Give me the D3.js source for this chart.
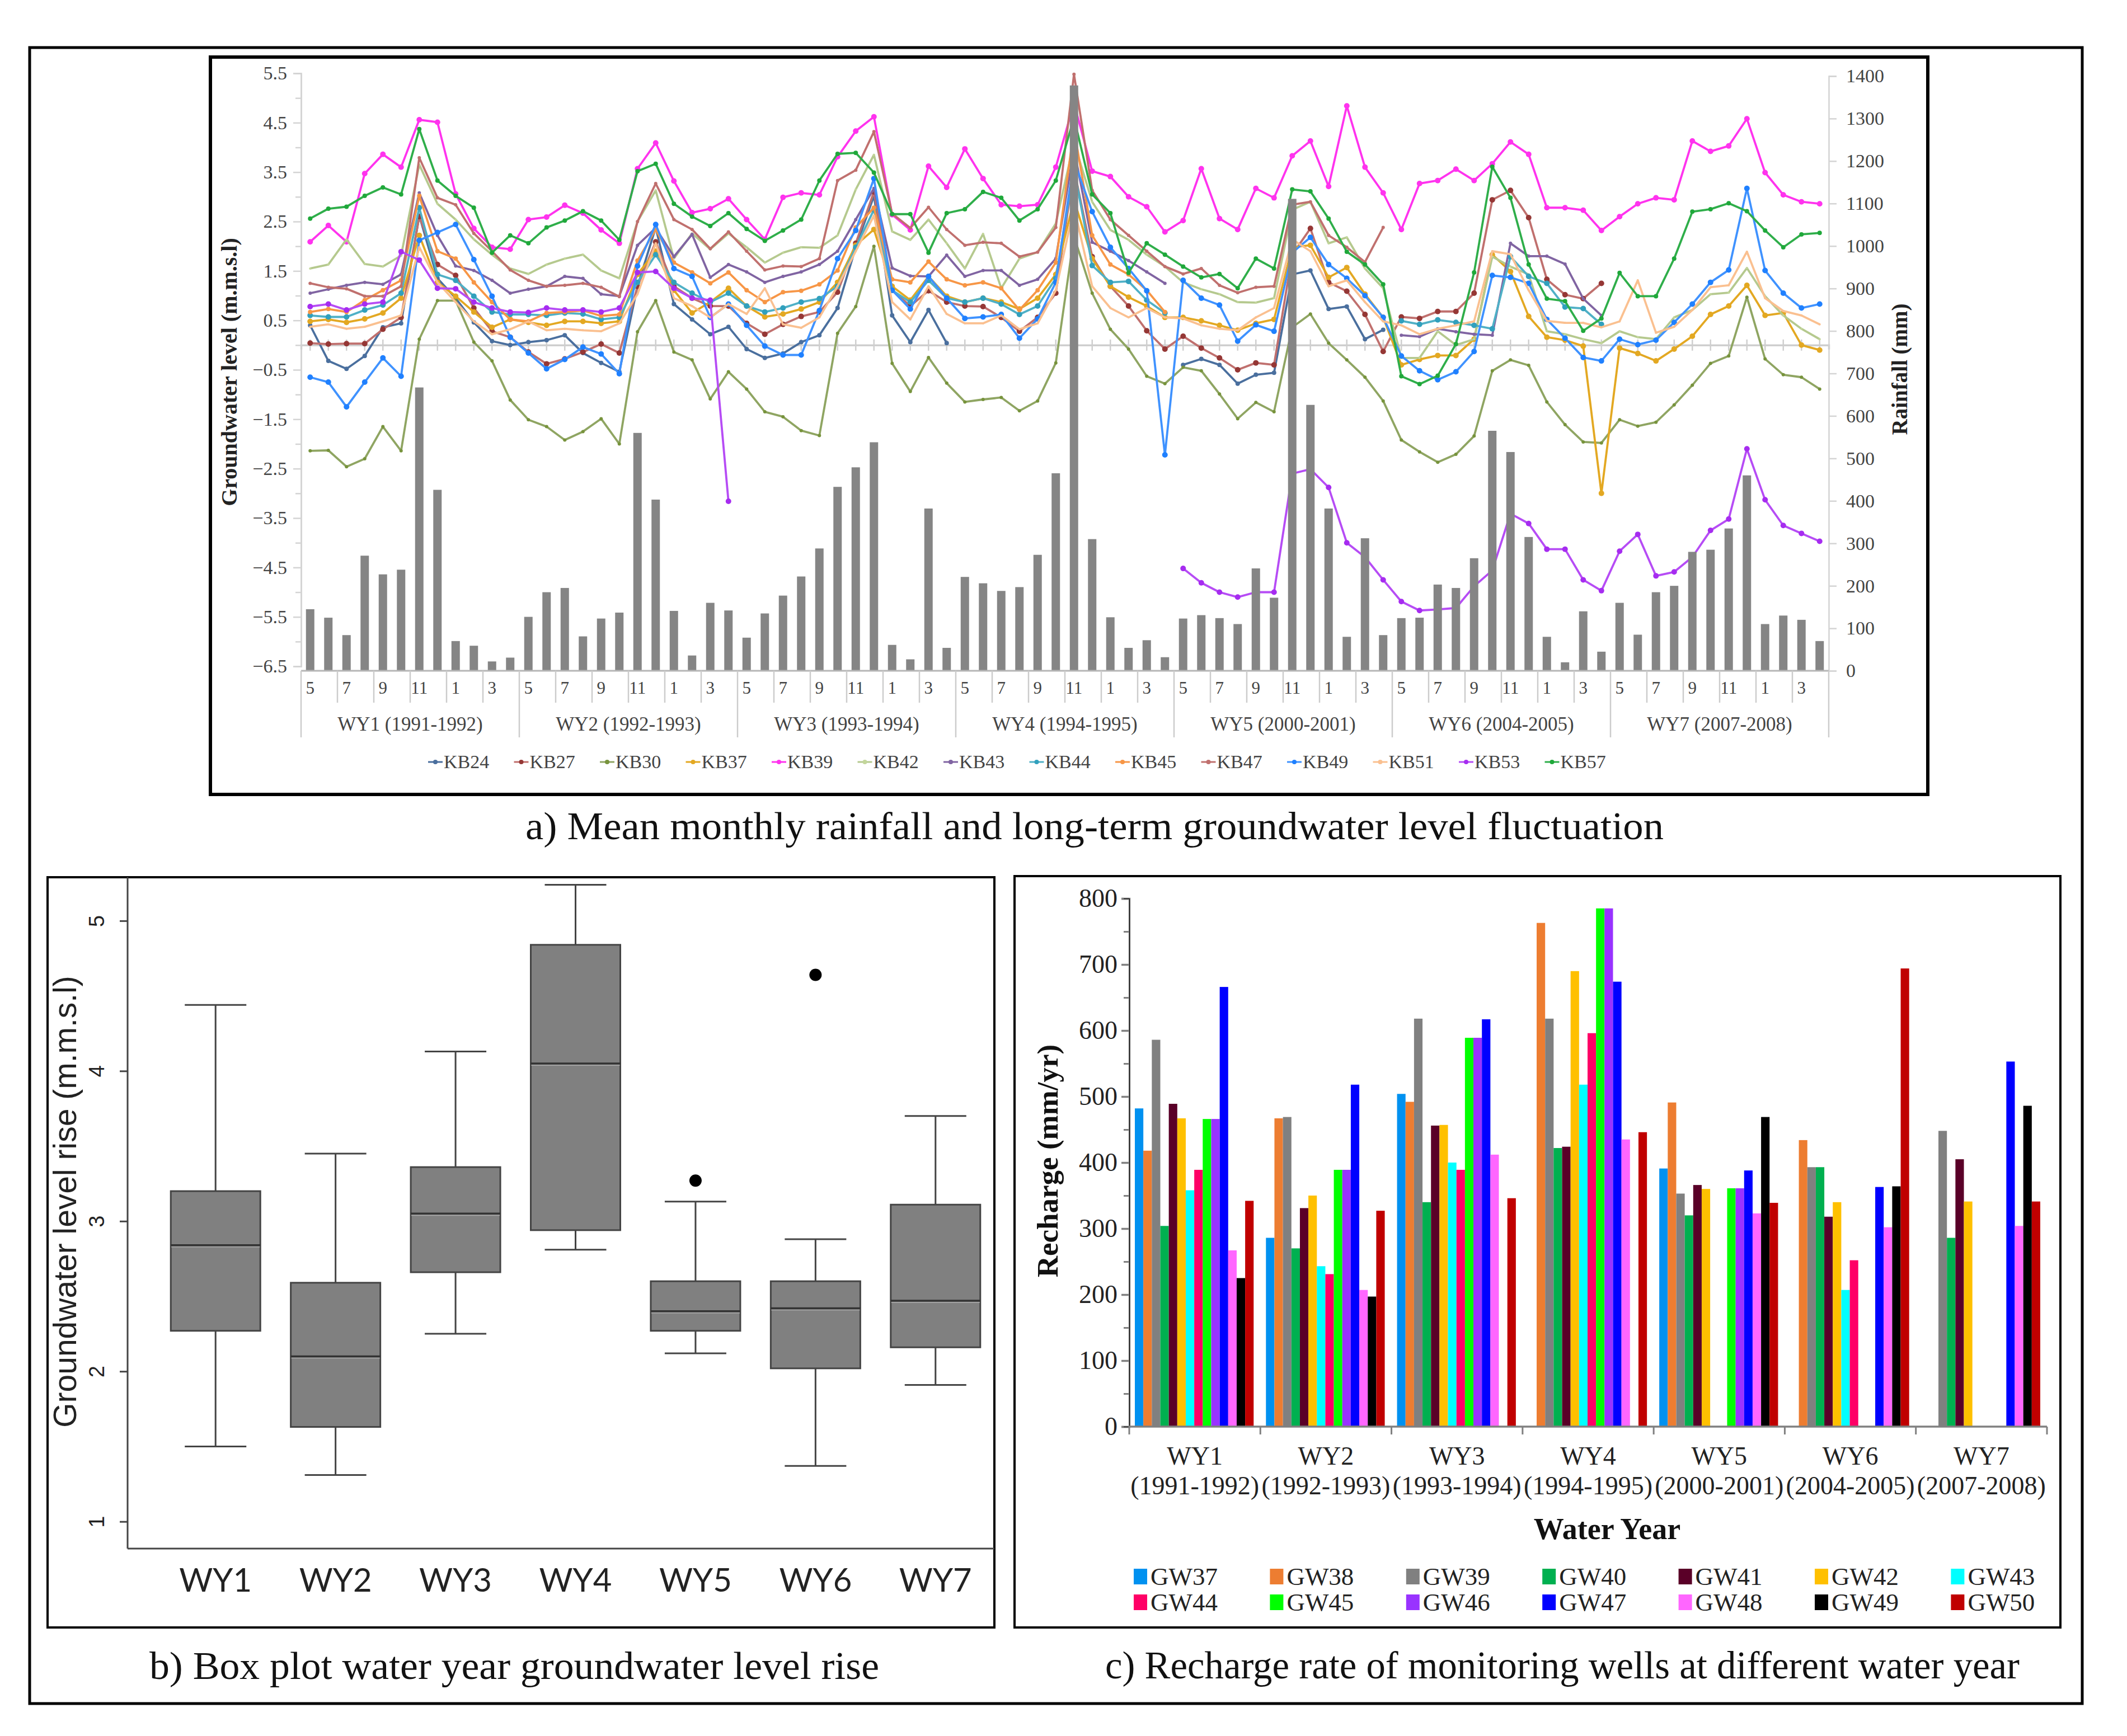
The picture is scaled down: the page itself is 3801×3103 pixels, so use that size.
<!DOCTYPE html>
<html>
<head>
<meta charset="utf-8">
<script src="https://cdn.jsdelivr.net/npm/d3@7"></script>
<style>
    html, body { margin: 0; background: #fff; }
    svg { display: block; }
</style>
</head>
<body>
<div class="main"></div>
<script>
// ---------- panel a data ----------
const wyLong = ["WY1 (1991-1992)", "WY2 (1992-1993)", "WY3 (1993-1994)", "WY4 (1994-1995)",
    "WY5 (2000-2001)", "WY6 (2004-2005)", "WY7 (2007-2008)"];
const monthLabels = ["5", "7", "9", "11", "1", "3"];

const rainfall = [
    145, 125, 84, 271, 227, 238, 667, 426, 70, 59, 22, 31,
    127, 185, 195, 81, 123, 137, 560, 403, 141, 36, 160, 142,
    78, 135, 177, 222, 288, 433, 479, 538, 61, 27, 382, 54,
    221, 206, 188, 197, 273, 465, 1378, 310, 126, 54, 72, 32,
    123, 131, 124, 110, 241, 172, 1111, 626, 382, 80, 312, 84,
    124, 125, 203, 195, 265, 565, 515, 315, 80, 20, 140, 45,
    160, 85, 185, 200, 280, 285, 335, 460, 110, 130, 120, 70];

const _ = null;
const kb24 = [
    0.40, -0.32, -0.48, -0.22, 0.36, 0.44, 2.62, 1.35, 0.95, 0.46, 0.08, 0.00,
    0.06, 0.10, 0.20, -0.16, -0.36, -0.54, 1.19, 2.38, 0.83, 0.52, 0.22, 0.37,
    -0.08, -0.26, -0.17, 0.06, 0.20, 0.75, 1.98, 3.02, 0.60, 0.06, 0.71, 0.04,
    _, _, _, _, _, _, _, _, _, _, _, _,
    -0.40, -0.28, -0.40, -0.78, -0.60, -0.56, 1.43, 1.51, 0.73, 0.78, 0.12, 0.31,
    _, _, _, _, _, _, _, _, _, _, _, _,
    _, _, _, _, _, _, _, _, _, _, _, _];
const kb27 = [
    0.04, 0.02, 0.03, 0.03, 0.32, 0.56, 2.60, 1.63, 1.41, 0.75, 0.28, 0.16,
    -0.14, -0.38, -0.28, -0.14, 0.02, -0.16, 1.19, 2.09, 1.19, 0.95, 0.79, 0.79,
    0.44, 0.22, 0.42, 0.58, 0.67, 1.07, 2.06, 3.10, 1.11, 0.79, 1.10, 0.87,
    0.79, 0.78, 0.56, 0.28, 0.56, 1.05, 3.57, 1.79, 1.19, 0.79, 0.29, -0.08,
    0.18, -0.06, -0.26, -0.50, -0.36, -0.40, 1.83, 2.36, 1.27, 1.09, 0.62, -0.13,
    0.57, 0.54, 0.68, 0.68, 1.05, 2.94, 3.13, 2.58, 1.33, 1.02, 0.94, 1.25,
    _, _, _, _, _, _, _, _, _, _, _, _];
const kb30 = [
    -2.14, -2.13, -2.46, -2.30, -1.65, -2.14, 0.12, 0.90, 0.90, 0.06, -0.32, -1.11,
    -1.51, -1.65, -1.92, -1.75, -1.49, -2.00, 0.27, 0.90, -0.14, -0.30, -1.09, -0.54,
    -0.89, -1.35, -1.45, -1.73, -1.83, 0.24, 0.78, 2.00, -0.37, -0.94, -0.25, -0.77,
    -1.15, -1.10, -1.06, -1.33, -1.13, -0.36, 2.20, 1.05, 0.32, -0.08, -0.63, -0.78,
    -0.45, -0.52, -0.99, -1.49, -1.16, -1.35, 0.36, 0.63, 0.04, -0.30, -0.65, -1.13,
    -1.92, -2.16, -2.37, -2.21, -1.84, -0.52, -0.30, -0.41, -1.15, -1.61, -1.96, -1.98,
    -1.51, -1.64, -1.56, -1.21, -0.81, -0.37, -0.22, 0.97, -0.28, -0.60, -0.65, -0.89];
const kb37 = [
    0.48, 0.52, 0.46, 0.53, 0.65, 0.95, 2.22, 1.27, 0.99, 0.67, 0.36, 0.52,
    0.46, 0.40, 0.48, 0.48, 0.44, 0.48, 1.43, 1.90, 1.11, 0.65, 0.87, 1.15,
    0.79, 0.57, 0.63, 0.73, 0.87, 1.27, 2.02, 2.34, 1.19, 0.91, 1.39, 0.99,
    0.87, 0.95, 0.87, 0.73, 0.95, 1.43, 2.94, 1.75, 1.19, 0.97, 0.79, 0.56,
    0.56, 0.49, 0.40, 0.30, 0.44, 0.52, 1.98, 2.02, 1.37, 1.57, 1.03, 0.56,
    -0.40, -0.29, -0.21, -0.21, 0.12, 1.83, 1.49, 0.58, 0.16, 0.10, -0.02, -3.00,
    -0.06, -0.17, -0.32, -0.08, 0.18, 0.62, 0.79, 1.21, 0.60, 0.65, 0.00, -0.10];
const kb39 = [
    2.09, 2.42, 2.09, 3.47, 3.86, 3.60, 4.56, 4.51, 3.06, 2.36, 1.98, 1.94,
    2.54, 2.59, 2.83, 2.67, 2.33, 2.06, 3.57, 4.09, 3.32, 2.68, 2.76, 2.96,
    2.54, 2.14, 2.99, 3.08, 3.04, 3.81, 4.33, 4.62, 2.64, 2.33, 3.62, 3.19,
    3.97, 3.37, 2.84, 2.81, 2.84, 3.60, 4.90, 3.52, 3.41, 3.00, 2.80, 2.29,
    2.52, 3.57, 2.56, 2.34, 3.17, 2.98, 3.83, 4.13, 3.21, 4.84, 3.60, 3.08,
    2.34, 3.27, 3.33, 3.56, 3.33, 3.67, 4.11, 3.86, 2.78, 2.78, 2.73, 2.32,
    2.60, 2.86, 2.98, 2.94, 4.13, 3.92, 4.03, 4.58, 3.49, 3.04, 2.90, 2.86];
const kb42 = [
    1.55, 1.63, 2.14, 1.64, 1.59, 1.81, 3.65, 2.86, 2.54, 2.14, 1.83, 1.55,
    1.44, 1.63, 1.75, 1.83, 1.51, 1.35, 2.50, 3.13, 1.75, 2.26, 1.94, 2.26,
    1.98, 1.67, 1.87, 1.98, 1.97, 2.22, 3.15, 3.85, 2.30, 2.13, 2.54, 2.06,
    1.55, 2.25, 1.15, 1.75, 1.88, 2.46, 4.10, 2.90, 2.33, 2.13, 1.83, 1.59,
    1.27, 1.13, 1.03, 0.87, 0.86, 0.95, 2.74, 2.90, 2.06, 2.18, 1.55, 1.15,
    -0.26, -0.26, 0.28, 0.00, 0.12, 1.79, 1.59, 1.43, 0.28, 0.22, 0.12, 0.04,
    0.28, 0.16, 0.12, 0.56, 0.71, 1.03, 1.06, 1.56, 0.99, 0.60, 0.33, 0.12];
const kb43 = [
    1.05, 1.13, 1.21, 1.27, 1.23, 1.43, 3.08, 2.22, 1.60, 1.51, 1.31, 1.05,
    1.13, 1.19, 1.39, 1.35, 1.03, 0.99, 2.02, 2.37, 1.79, 2.24, 1.37, 1.63,
    1.48, 1.27, 1.39, 1.48, 1.63, 1.90, 2.54, 3.17, 1.56, 1.40, 1.39, 1.82,
    1.39, 1.51, 1.51, 1.21, 1.33, 1.75, 3.97, 2.08, 1.90, 1.71, 1.48, 1.25,
    _, _, _, _, _, _, _, _, _, _, _, _,
    0.20, 0.17, 0.33, 0.27, 0.22, 0.20, 2.06, 1.80, 1.80, 1.64, 0.94, 0.60,
    _, _, _, _, _, _, _, _, _, _, _, _];
const kb44 = [
    0.60, 0.57, 0.57, 0.71, 0.81, 1.05, 2.78, 1.43, 1.31, 0.99, 0.67, 0.62,
    0.62, 0.60, 0.65, 0.63, 0.52, 0.56, 1.27, 1.83, 1.27, 1.05, 0.87, 1.05,
    0.79, 0.67, 0.75, 0.87, 0.94, 1.19, 1.98, 2.74, 1.11, 0.87, 1.31, 0.95,
    0.87, 0.95, 0.83, 0.62, 0.79, 1.35, 3.57, 1.61, 1.27, 1.29, 0.91, 0.65,
    _, _, _, _, _, _, _, _, _, _, _, _,
    0.49, 0.42, 0.51, 0.46, 0.40, 0.33, 1.79, 1.39, 1.25, 0.77, 0.74, 0.42,
    _, _, _, _, _, _, _, _, _, _, _, _];
const kb45 = [
    0.67, 0.73, 0.67, 0.91, 1.11, 1.31, 3.02, 1.90, 1.75, 1.27, 0.87, 0.52,
    0.48, 0.65, 0.67, 0.70, 0.59, 0.62, 1.71, 2.34, 1.67, 1.47, 1.25, 1.47,
    1.11, 0.87, 1.07, 1.10, 1.23, 1.51, 2.38, 2.78, 1.33, 1.27, 1.69, 1.33,
    1.21, 1.27, 1.15, 0.71, 1.11, 1.67, 4.37, 2.22, 1.63, 1.43, 1.11, 0.67,
    _, _, _, _, _, _, _, _, _, _, _, _,
    _, _, _, _, _, _, _, _, _, _, _, _,
    _, _, _, _, _, _, _, _, _, _, _, _];
const kb47 = [
    1.25, 1.17, 1.14, 0.99, 0.99, 1.19, 3.79, 2.98, 2.84, 2.26, 1.90, 1.52,
    1.31, 1.19, 1.21, 1.25, 1.17, 0.98, 2.50, 3.27, 2.54, 2.34, 1.95, 2.29,
    1.90, 1.52, 1.60, 1.59, 1.75, 3.33, 3.54, 4.32, 2.66, 2.37, 2.79, 2.34,
    2.02, 2.08, 2.06, 1.79, 1.88, 2.38, 5.48, 3.13, 2.54, 2.22, 1.90, 1.59,
    1.44, 1.55, 1.21, 1.06, 1.17, 1.19, 2.84, 2.90, 2.22, 1.98, 1.68, 2.38,
    _, _, _, _, _, _, _, _, _, _, _, _,
    _, _, _, _, _, _, _, _, _, _, _, _];
const kb49 = [
    -0.65, -0.75, -1.25, -0.75, -0.26, -0.63, 2.12, 2.28, 2.44, 1.73, 0.99, 0.16,
    -0.16, -0.48, -0.29, -0.04, -0.18, -0.58, 1.60, 2.44, 1.55, 1.39, 0.56, 0.83,
    0.40, -0.02, -0.20, -0.20, 0.70, 1.75, 2.32, 3.37, 1.11, 0.73, 1.39, 0.95,
    0.54, 0.57, 0.62, 0.14, 0.53, 1.27, 3.73, 2.70, 1.98, 1.55, 1.10, -2.22,
    1.31, 0.95, 0.81, 0.08, 0.41, 0.28, 1.87, 2.18, 1.63, 1.35, 1.00, 0.56,
    -0.22, -0.52, -0.70, -0.54, -0.13, 1.41, 1.37, 1.25, 0.52, 0.14, -0.25, -0.32,
    0.12, 0.01, 0.10, 0.46, 0.83, 1.27, 1.52, 3.17, 1.51, 1.05, 0.75, 0.83];
const kb51 = [
    0.37, 0.42, 0.33, 0.37, 0.48, 0.60, 1.98, 1.27, 0.87, 0.48, 0.22, 0.32,
    0.48, 0.30, 0.33, 0.30, 0.28, 0.44, 1.03, 2.06, 0.95, 0.79, 0.56, 0.83,
    0.63, 1.15, 0.42, 0.35, 0.56, 1.19, 1.90, 2.62, 0.87, 0.52, 1.19, 0.63,
    0.44, 0.44, 0.60, 0.32, 0.44, 1.11, 2.78, 1.19, 0.75, 0.56, 0.75, 0.56,
    0.54, 0.40, 0.33, 0.30, 0.56, 0.75, 2.14, 1.90, 1.19, 1.31, 0.87, 0.48,
    0.40, 0.22, 0.33, 0.40, 0.48, 1.90, 1.84, 1.11, 0.49, 0.45, 0.45, 0.36,
    0.48, 1.31, 0.25, 0.37, 0.71, 1.17, 1.21, 1.89, 0.95, 0.69, 0.60, 0.42];
const kb53 = [
    0.78, 0.83, 0.71, 0.83, 0.87, 1.89, 1.72, 1.15, 1.14, 0.87, 0.75, 0.67,
    0.66, 0.75, 0.71, 0.71, 0.67, 0.75, 1.47, 1.49, 1.15, 0.95, 0.91, -3.16,
    _, _, _, _, _, _, _, _, _, _, _, _,
    _, _, _, _, _, _, _, _, _, _, _, _,
    -4.52, -4.81, -5.00, -5.10, -5.00, -5.00, -2.60, -2.51, -2.88, -4.00, -4.29, -4.75,
    -5.19, -5.37, -5.35, -5.32, -4.88, -4.56, -3.41, -3.61, -4.13, -4.13, -4.75, -4.97,
    -4.17, -3.83, -4.67, -4.59, -4.29, -3.75, -3.52, -2.10, -3.13, -3.65, -3.81, -3.97];
const kb57 = [
    2.56, 2.76, 2.80, 3.02, 3.19, 3.05, 4.37, 3.33, 3.02, 2.78, 1.87, 2.22,
    2.06, 2.38, 2.52, 2.71, 2.52, 2.13, 3.52, 3.67, 2.86, 2.60, 2.41, 2.67,
    2.35, 2.11, 2.32, 2.54, 3.33, 3.87, 3.89, 3.49, 2.65, 2.65, 1.87, 2.67,
    2.75, 3.10, 2.98, 2.52, 2.75, 3.33, 4.60, 3.05, 2.67, 1.46, 2.06, 1.83,
    1.59, 1.37, 1.44, 1.15, 1.75, 1.55, 3.15, 3.11, 2.56, 1.89, 1.63, 1.23,
    -0.63, -0.79, -0.62, 0.02, 1.47, 3.61, 2.98, 1.63, 0.94, 0.89, 0.29, 0.54,
    1.46, 0.99, 0.99, 1.75, 2.70, 2.75, 2.87, 2.71, 2.32, 1.98, 2.24, 2.27];

const kbNames = ["KB24", "KB27", "KB30", "KB37", "KB39", "KB42", "KB43", "KB44", "KB45", "KB47", "KB49", "KB51", "KB53", "KB57"];
const kbValues = [kb24, kb27, kb30, kb37, kb39, kb42, kb43, kb44, kb45, kb47, kb49, kb51, kb53, kb57];
const kbColors = ["#4a6f9e", "#953735", "#77933c", "#e3a822", "#ff33ee", "#c3d69b", "#8064a2", "#31a0bd", "#f79646", "#c0706e", "#1f80ff", "#fac090", "#a62cf0", "#1fa83a"];
const kbLineColors = ["#4a6f9e", "#c0706e", "#8fa562", "#e3a822", "#ff33ee", "#b5c98e", "#8064a2", "#4fb0c6", "#f79646", "#c0706e", "#3f92ff", "#fac090", "#b64cf5", "#2fae4a"];
const kbMarker = [4, 5, 3, 5, 5, 2, 3, 5, 4, 3, 5, 2, 5, 4];

// ---------- panel b data ----------
const wyShort = ["WY1", "WY2", "WY3", "WY4", "WY5", "WY6", "WY7"];
const boxHigh = [4.44, 3.45, 4.13, 5.24, 3.13, 2.88, 3.70];
const boxQ3 = [3.20, 2.59, 3.36, 4.84, 2.60, 2.60, 3.11];
const boxMedian = [2.84, 2.10, 3.05, 4.05, 2.40, 2.42, 2.47];
const boxQ1 = [2.27, 1.63, 2.66, 2.94, 2.27, 2.02, 2.16];
const boxLow = [1.50, 1.31, 2.25, 2.81, 2.12, 1.37, 1.91];
const boxOutliers = [_, _, _, _, 3.27, 4.64, _];

// ---------- panel c data ----------
const wyYears = ["(1991-1992)", "(1992-1993)", "(1993-1994)", "(1994-1995)", "(2000-2001)", "(2004-2005)", "(2007-2008)"];
const gwNames = ["GW37", "GW38", "GW39", "GW40", "GW41", "GW42", "GW43", "GW44", "GW45", "GW46", "GW47", "GW48", "GW49", "GW50"];
const gwColors = ["#0091f0", "#ed7d31", "#808080", "#00b050", "#5a0028", "#ffc000", "#00ffff", "#ff0066", "#00ff00", "#9933ff", "#0000ff", "#ff66ff", "#000000", "#c00000"];
const rechargeWY1 = [482, 418, 586, 304, 489, 467, 358, 389, 466, 466, 666, 267, 225, 342];
const rechargeWY2 = [286, 467, 469, 270, 331, 350, 243, 231, 389, 389, 518, 207, 197, 327];
const rechargeWY3 = [504, 492, 618, 340, 456, 457, 400, 389, 589, 589, 617, 412, _, 346];
const rechargeWY4 = [_, 763, 618, 422, 424, 690, 518, 596, 785, 785, 674, 435, _, 446];
const rechargeWY5 = [391, 491, 353, 320, 366, 360, _, _, 361, 361, 388, 323, 469, 339];
const rechargeWY6 = [_, 434, 393, 393, 318, 340, 207, 252, _, _, 363, 302, 364, 694];
const rechargeWY7 = [_, _, 448, 286, 405, 341, _, _, _, _, 553, 304, 486, 341];
const recharge = [rechargeWY1, rechargeWY2, rechargeWY3, rechargeWY4, rechargeWY5, rechargeWY6, rechargeWY7];

// ---------- page ----------
const w = 3801;
const h = 3103;
const serif = "'Liberation Serif', serif";

const svg = d3.select(".main").append("svg").attr("width", w).attr("height", h);
svg.append("rect").attr("width", w).attr("height", h).attr("fill", "#fff");

const frame = (x0, y0, x1, y1, sw) =>
    svg.append("rect")
        .attr("x", x0).attr("y", y0)
        .attr("width", x1 - x0).attr("height", y1 - y0)
        .attr("fill", "none").attr("stroke", "#000").attr("stroke-width", sw);

frame(53, 85, 3721, 3045, 5);
frame(376, 102, 3445, 1420, 6);
frame(85, 1568, 1777, 2909, 4);
frame(1813, 1566, 3682, 2909, 4);

const caption = (txt, x, y, len) =>
    svg.append("text")
        .attr("x", x).attr("y", y)
        .attr("text-anchor", "middle")
        .attr("textLength", len)
        .attr("lengthAdjust", "spacingAndGlyphs")
        .attr("font-family", serif)
        .attr("font-size", 70)
        .attr("fill", "#111")
        .text(txt);

caption("a) Mean monthly rainfall and long-term groundwater level fluctuation", 1956, 1500, 2034);
caption("b) Box plot water year groundwater level rise", 919, 3001, 1304);
caption("c) Recharge rate of monitoring wells at different water year", 2792, 3000, 1634);

// ---------- panel a ----------
const a = svg.append("g").attr("font-family", serif);
const xMonth = d3.scaleBand().domain(d3.range(84)).range([538, 3268]);
const yLevel = d3.scaleLinear().domain([-6.5, 5.5]).range([1191, 131]);
const yRain = d3.scaleLinear().domain([0, 1400]).range([1199, 136]);
const xMid = (i) => xMonth(i) + xMonth.bandwidth() / 2;
const axisGrey = "#d4d4d4";

const levelAxis = d3.axisLeft(yLevel)
    .tickValues(d3.range(-6.5, 5.6, 1))
    .tickFormat(d3.format(".1f"))
    .tickSize(14);
const gLevel = a.append("g").attr("transform", "translate(538,0)").call(levelAxis);
gLevel.selectAll("path, line").attr("stroke", axisGrey).attr("stroke-width", 2.5);
gLevel.selectAll("text").attr("font-size", 34).attr("font-family", serif).attr("fill", "#444").attr("dx", -8);

const levelMinor = d3.axisLeft(yLevel).tickValues(d3.range(-6, 5.1, 1)).tickFormat("").tickSize(10);
a.append("g").attr("transform", "translate(538,0)").call(levelMinor)
    .selectAll("path, line").attr("stroke", axisGrey).attr("stroke-width", 2.5);

const rainAxis = d3.axisRight(yRain).tickValues(d3.range(0, 1401, 100)).tickFormat(d3.format("d")).tickSize(14);
const gRain = a.append("g").attr("transform", "translate(3268,0)").call(rainAxis);
gRain.selectAll("path, line").attr("stroke", axisGrey).attr("stroke-width", 2.5);
gRain.selectAll("text").attr("font-size", 34).attr("font-family", serif).attr("fill", "#444").attr("dx", 14);

// axis line at level zero, with a small tick on each month
const zeroAxis = d3.axisBottom(xMonth).tickSize(8).tickFormat("");
const gZero = a.append("g").attr("transform", `translate(0,${yLevel(0)})`).call(zeroAxis);
gZero.selectAll("path").attr("stroke", "#cfcfcf").attr("stroke-width", 3.5);
gZero.selectAll("line").attr("stroke", "#cfcfcf").attr("stroke-width", 2.5).attr("y1", -10).attr("y2", 10);

const lineGen = d3.line()
    .defined((d) => d != null)
    .x((d, i) => xMid(i))
    .y((d) => yLevel(d));

kbValues.forEach((vals, s) => {
    a.append("path")
        .attr("d", lineGen(vals))
        .attr("fill", "none")
        .attr("stroke", kbLineColors[s])
        .attr("stroke-width", 3.8)
        .attr("stroke-linejoin", "round");
    a.append("g").selectAll("circle")
        .data(vals.map((v, i) => ({ v, i })).filter((d) => d.v != null))
        .enter()
        .append("circle")
        .attr("cx", (d) => xMid(d.i))
        .attr("cy", (d) => yLevel(d.v))
        .attr("r", kbMarker[s])
        .attr("fill", kbColors[s]);
});

a.append("g").selectAll("rect")
    .data(rainfall)
    .enter()
    .append("rect")
    .attr("x", (d, i) => xMid(i) - 7.5)
    .attr("y", (d) => yRain(d))
    .attr("width", 15)
    .attr("height", (d) => yRain(0) - yRain(d))
    .attr("fill", "#858585");

a.append("line")
    .attr("x1", 538).attr("x2", 3268)
    .attr("y1", yRain(0)).attr("y2", yRain(0))
    .attr("stroke", "#b5b5b5").attr("stroke-width", 3);

// month labels and the two levels of separators under the axis
const evenMonths = d3.range(0, 84, 2);
const monthAxis = d3.axisBottom(xMonth)
    .tickValues(evenMonths)
    .tickFormat((d) => monthLabels[(d / 2) % 6])
    .tickSize(0);
const gMonth = a.append("g").attr("transform", `translate(0,${yRain(0)})`).call(monthAxis);
gMonth.select("path").remove();
gMonth.selectAll("text").attr("font-size", 31).attr("font-family", serif).attr("fill", "#444").attr("dy", 38);

a.append("g").selectAll("line")
    .data(evenMonths)
    .enter()
    .append("line")
    .attr("x1", (d) => xMonth(d)).attr("x2", (d) => xMonth(d))
    .attr("y1", yRain(0))
    .attr("y2", (d) => (d % 12 === 0 ? 1318 : 1256))
    .attr("stroke", "#cccccc").attr("stroke-width", 2.5);
a.append("line").attr("x1", 3268).attr("x2", 3268).attr("y1", yRain(0)).attr("y2", 1318)
    .attr("stroke", "#cccccc").attr("stroke-width", 2.5);

a.append("g").selectAll("text")
    .data(wyLong)
    .enter()
    .append("text")
    .attr("x", (d, i) => xMonth(i * 12) + 6 * xMonth.step())
    .attr("y", 1306)
    .attr("text-anchor", "middle")
    .attr("font-size", 35)
    .attr("fill", "#444")
    .text((d) => d);

a.append("text")
    .attr("transform", "translate(423,665) rotate(-90)")
    .attr("text-anchor", "middle")
    .attr("font-size", 40)
    .attr("font-weight", "bold")
    .attr("fill", "#222")
    .text("Groundwater level (m.m.s.l)");
a.append("text")
    .attr("transform", "translate(3408,660) rotate(-90)")
    .attr("text-anchor", "middle")
    .attr("font-size", 39)
    .attr("font-weight", "bold")
    .attr("fill", "#222")
    .text("Rainfall (mm)");

const kbLegend = a.append("g").selectAll("g")
    .data(kbNames)
    .enter()
    .append("g")
    .attr("transform", (d, i) => `translate(${765 + i * 153.5},1362)`);
kbLegend.append("line").attr("x1", 0).attr("x2", 26).attr("stroke", (d, i) => kbLineColors[i]).attr("stroke-width", 3);
kbLegend.append("circle").attr("cx", 13).attr("r", 4).attr("fill", (d, i) => kbColors[i]);
kbLegend.append("text")
    .attr("x", 28).attr("y", 11)
    .attr("font-size", 34)
    .attr("fill", "#444")
    .text((d) => d);

// ---------- panel b ----------
const xBox = d3.scaleBand().domain(wyShort).range([278, 1779]);
const yBox = d3.scaleLinear().domain([0.82, 5.29]).range([2768, 1568]);
const boxMid = (i) => xBox(wyShort[i]) + xBox.bandwidth() / 2;
const b = svg.append("g");

const boxAxisY = d3.axisLeft(yBox).tickValues([1, 2, 3, 4, 5]).tickFormat(d3.format("d")).tickSize(14);
const gBoxY = b.append("g").attr("transform", "translate(228,0)").call(boxAxisY);
gBoxY.select("path").attr("stroke", "#444").attr("stroke-width", 3).attr("d", `M0,${yBox.range()[0]}V${yBox.range()[1]}`);
gBoxY.selectAll("line").attr("stroke", "#444").attr("stroke-width", 3);
gBoxY.selectAll("text")
    .attr("font-family", "'Liberation Sans', sans-serif")
    .attr("font-size", 38)
    .attr("fill", "#222")
    .attr("text-anchor", "middle")
    .attr("dy", 0)
    .attr("x", 0)
    .attr("transform", "translate(-42,0) rotate(-90)");

const boxAxisX = d3.axisBottom(xBox).tickSize(0);
const gBoxX = b.append("g").attr("transform", "translate(0,2768)").call(boxAxisX);
gBoxX.select("path").attr("stroke", "#444").attr("stroke-width", 3).attr("d", "M228,0H1777");
gBoxX.selectAll("text").attr("font-family", "Lato, sans-serif").attr("font-size", 58).attr("fill", "#222").attr("dy", 74);

wyShort.forEach((wy, i) => {
    const cx = boxMid(i);
    b.append("line").attr("x1", cx).attr("x2", cx).attr("y1", yBox(boxHigh[i])).attr("y2", yBox(boxLow[i]))
        .attr("stroke", "#444").attr("stroke-width", 3);
    [boxHigh[i], boxLow[i]].forEach((v) => {
        b.append("line").attr("x1", cx - 55).attr("x2", cx + 55).attr("y1", yBox(v)).attr("y2", yBox(v))
            .attr("stroke", "#444").attr("stroke-width", 3);
    });
    b.append("rect")
        .attr("x", cx - 80).attr("width", 160)
        .attr("y", yBox(boxQ3[i]))
        .attr("height", yBox(boxQ1[i]) - yBox(boxQ3[i]))
        .attr("fill", "#808080").attr("stroke", "#444").attr("stroke-width", 3);
    b.append("line").attr("x1", cx - 79).attr("x2", cx + 79).attr("y1", yBox(boxMedian[i]) + 3).attr("y2", yBox(boxMedian[i]) + 3)
        .attr("stroke", "#a2a2a2").attr("stroke-width", 2);
    b.append("line").attr("x1", cx - 80).attr("x2", cx + 80).attr("y1", yBox(boxMedian[i])).attr("y2", yBox(boxMedian[i]))
        .attr("stroke", "#333").attr("stroke-width", 3.5);
    if (boxOutliers[i] != null) {
        b.append("circle").attr("cx", cx).attr("cy", yBox(boxOutliers[i])).attr("r", 11).attr("fill", "#000");
    }
});

// ---------- panel c ----------
const c = svg.append("g").attr("font-family", serif);
const xWell = d3.scaleBand().domain(wyShort).range([2018, 3658]);
const yRecharge = d3.scaleLinear().domain([0, 800]).range([2550, 1606]);
const inner = d3.scaleBand().domain(gwNames).range([10, xWell.bandwidth() - 12]);

const rechargeAxis = d3.axisLeft(yRecharge).tickValues(d3.range(0, 801, 100)).tickSize(14);
const gRecharge = c.append("g").attr("transform", "translate(2018,0)").call(rechargeAxis);
gRecharge.selectAll("path, line").attr("stroke", "#808080").attr("stroke-width", 3.5);
gRecharge.selectAll("text").attr("font-family", serif).attr("font-size", 46).attr("fill", "#222").attr("dx", -4);
const rechargeMinor = d3.axisLeft(yRecharge).tickValues(d3.range(50, 800, 100)).tickFormat("").tickSize(10);
c.append("g").attr("transform", "translate(2018,0)").call(rechargeMinor)
    .selectAll("line").attr("stroke", "#808080").attr("stroke-width", 3);

recharge.forEach((row, k) => {
    c.append("g")
        .attr("transform", `translate(${xWell(wyShort[k])},0)`)
        .selectAll("rect")
        .data(row.map((v, s) => ({ v, s })).filter((d) => d.v != null))
        .enter()
        .append("rect")
        .attr("x", (d) => inner(gwNames[d.s]))
        .attr("y", (d) => yRecharge(d.v))
        .attr("width", inner.bandwidth())
        .attr("height", (d) => yRecharge(0) - yRecharge(d.v))
        .attr("fill", (d) => gwColors[d.s]);
});

const wellAxis = d3.axisBottom(xWell).tickSize(0).tickFormat("");
const gWell = c.append("g").attr("transform", "translate(0,2550)").call(wellAxis);
gWell.select("path").attr("stroke", "#808080").attr("stroke-width", 3.5).attr("d", "M2018,0H3658");
c.append("g").selectAll("line")
    .data(d3.range(8))
    .enter()
    .append("line")
    .attr("x1", (d) => xWell.range()[0] + d * xWell.step())
    .attr("x2", (d) => xWell.range()[0] + d * xWell.step())
    .attr("y1", 2550).attr("y2", 2564)
    .attr("stroke", "#808080").attr("stroke-width", 3);

const wellMid = (i) => xWell(wyShort[i]) + xWell.bandwidth() / 2;
c.append("g").selectAll("text")
    .data(wyShort)
    .enter()
    .append("text")
    .attr("x", (d, i) => wellMid(i)).attr("y", 2618)
    .attr("text-anchor", "middle").attr("font-size", 46).attr("fill", "#222")
    .text((d) => d);
c.append("g").selectAll("text")
    .data(wyYears)
    .enter()
    .append("text")
    .attr("x", (d, i) => wellMid(i)).attr("y", 2671)
    .attr("text-anchor", "middle").attr("font-size", 46).attr("fill", "#222")
    .text((d) => d);

c.append("text")
    .attr("x", 2872).attr("y", 2751)
    .attr("text-anchor", "middle").attr("font-size", 54).attr("font-weight", "bold").attr("fill", "#111")
    .text("Water Year");
c.append("text")
    .attr("transform", "translate(1890,2075) rotate(-90)")
    .attr("text-anchor", "middle").attr("font-size", 53).attr("font-weight", "bold").attr("fill", "#111")
    .text("Recharge (mm/yr)");

const gwLegend = c.append("g").selectAll("g")
    .data(gwNames)
    .enter()
    .append("g")
    .attr("transform", (d, i) => `translate(${2026 + (i % 7) * 243.4},${i < 7 ? 2818 : 2864})`);
gwLegend.append("rect")
    .attr("x", 0).attr("y", -14).attr("width", 24).attr("height", 28)
    .attr("fill", (d, i) => gwColors[i]);
gwLegend.append("text")
    .attr("x", 30).attr("y", 15)
    .attr("font-size", 45).attr("fill", "#222")
    .text((d) => d);

// y-title of the box plot
b.append("text")
    .attr("transform", "translate(136,2148) rotate(-90)")
    .attr("text-anchor", "middle")
    .attr("font-family", "'Liberation Sans', sans-serif")
    .attr("font-size", 57)
    .attr("fill", "#222")
    .text("Groundwater level rise (m.m.s.l)");
</script>
</body>
</html>
